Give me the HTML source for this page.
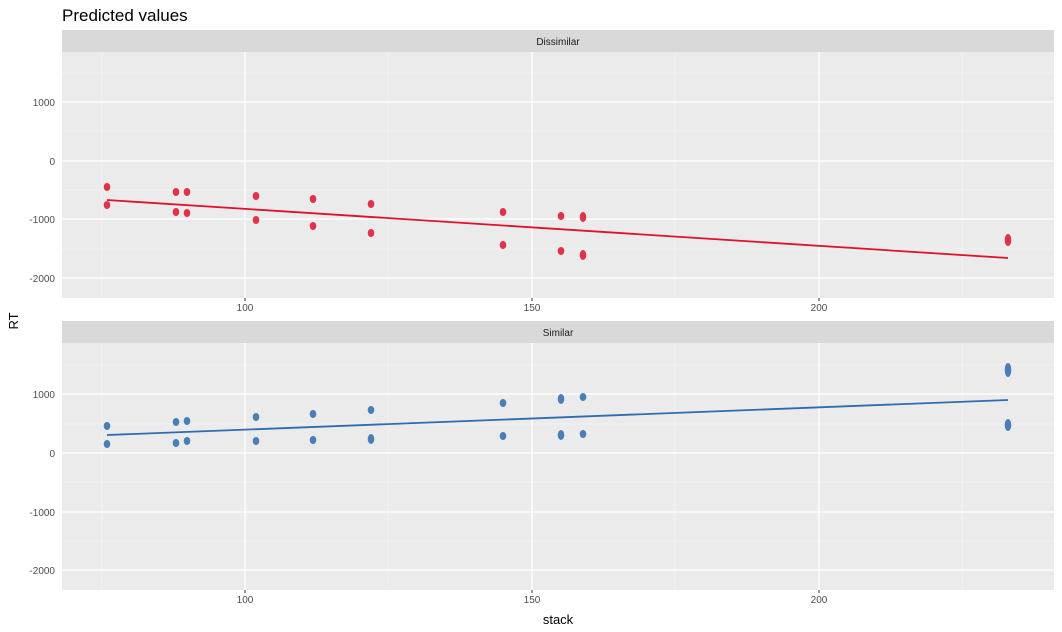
<!DOCTYPE html><html><head><style>body{margin:0;background:#fff}svg{display:block;font-family:"Liberation Sans",sans-serif}</style></head><body>
<svg width="1062" height="632" xmlns="http://www.w3.org/2000/svg">
<text x="62" y="21" font-size="17">Predicted values</text>
<g id="p1">
<rect x="62" y="30" width="992" height="22" fill="#d9d9d9"/>
<text x="558" y="45" font-size="10" text-anchor="middle" fill="#1a1a1a">Dissimilar</text>
<rect x="62" y="52" width="992" height="246" fill="#ebebeb"/>
<g stroke="#f5f5f5" stroke-width="0.7">
<line x1="62" x2="1054" y1="73" y2="73"/><line x1="62" x2="1054" y1="131" y2="131"/><line x1="62" x2="1054" y1="190" y2="190"/><line x1="62" x2="1054" y1="249" y2="249"/>
<line x1="102" x2="102" y1="52" y2="298"/><line x1="388" x2="388" y1="52" y2="298"/><line x1="675" x2="675" y1="52" y2="298"/><line x1="962" x2="962" y1="52" y2="298"/></g>
<g stroke="#fff" stroke-width="1.3">
<line x1="62" x2="1054" y1="102" y2="102"/><line x1="62" x2="1054" y1="161" y2="161"/><line x1="62" x2="1054" y1="219" y2="219"/><line x1="62" x2="1054" y1="278" y2="278"/>
<line x1="245" x2="245" y1="52" y2="298"/><line x1="532" x2="532" y1="52" y2="298"/><line x1="819" x2="819" y1="52" y2="298"/></g>
<g fill="#e0112b" fill-opacity="0.85">
<ellipse cx="107" cy="187" rx="3.3" ry="4"/><ellipse cx="107" cy="205" rx="3.3" ry="4"/>
<ellipse cx="176" cy="192" rx="3.3" ry="4"/><ellipse cx="176" cy="212" rx="3.3" ry="4"/>
<ellipse cx="187" cy="192" rx="3.3" ry="4"/><ellipse cx="187" cy="213" rx="3.3" ry="4"/>
<ellipse cx="256" cy="196" rx="3.3" ry="4"/><ellipse cx="256" cy="220" rx="3.3" ry="4"/>
<ellipse cx="313" cy="199" rx="3.3" ry="4"/><ellipse cx="313" cy="226" rx="3.3" ry="4"/>
<ellipse cx="371" cy="204" rx="3.3" ry="4"/><ellipse cx="371" cy="233" rx="3.3" ry="4"/>
<ellipse cx="503" cy="212" rx="3.3" ry="4"/><ellipse cx="503" cy="245" rx="3.3" ry="4"/>
<ellipse cx="561" cy="216" rx="3.3" ry="4"/><ellipse cx="561" cy="251" rx="3.3" ry="4"/>
<ellipse cx="583" cy="217" rx="3.3" ry="5"/><ellipse cx="583" cy="255" rx="3.3" ry="5"/>
<ellipse cx="1008" cy="240" rx="3.3" ry="6"/></g>
<line x1="107" y1="200" x2="1008" y2="258" stroke="#e0112b" stroke-width="1.8"/>
<g font-size="10" fill="#4d4d4d" text-anchor="end"><text x="55" y="106">1000</text><text x="55" y="165">0</text><text x="55" y="223">-1000</text><text x="55" y="282">-2000</text></g>
<g font-size="10" fill="#4d4d4d" text-anchor="middle"><text x="245" y="311">100</text><text x="532" y="311">150</text><text x="819" y="311">200</text></g>
</g>
<g id="p2">
<rect x="62" y="321" width="992" height="22" fill="#d9d9d9"/>
<text x="558" y="336" font-size="10" text-anchor="middle" fill="#1a1a1a">Similar</text>
<rect x="62" y="343" width="992" height="247" fill="#ebebeb"/>
<g stroke="#f5f5f5" stroke-width="0.7">
<line x1="62" x2="1054" y1="365" y2="365"/><line x1="62" x2="1054" y1="424" y2="424"/><line x1="62" x2="1054" y1="482" y2="482"/><line x1="62" x2="1054" y1="541" y2="541"/>
<line x1="102" x2="102" y1="343" y2="590"/><line x1="388" x2="388" y1="343" y2="590"/><line x1="675" x2="675" y1="343" y2="590"/><line x1="962" x2="962" y1="343" y2="590"/></g>
<g stroke="#fff" stroke-width="1.3">
<line x1="62" x2="1054" y1="394" y2="394"/><line x1="62" x2="1054" y1="453" y2="453"/><line x1="62" x2="1054" y1="512" y2="512"/><line x1="62" x2="1054" y1="570" y2="570"/>
<line x1="245" x2="245" y1="343" y2="590"/><line x1="532" x2="532" y1="343" y2="590"/><line x1="819" x2="819" y1="343" y2="590"/></g>
<g fill="#2e6bb0" fill-opacity="0.85">
<ellipse cx="107" cy="426" rx="3.3" ry="4"/><ellipse cx="107" cy="444" rx="3.3" ry="4"/>
<ellipse cx="176" cy="422" rx="3.3" ry="4"/><ellipse cx="176" cy="443" rx="3.3" ry="4"/>
<ellipse cx="187" cy="421" rx="3.3" ry="4"/><ellipse cx="187" cy="441" rx="3.3" ry="4"/>
<ellipse cx="256" cy="417" rx="3.3" ry="4"/><ellipse cx="256" cy="441" rx="3.3" ry="4"/>
<ellipse cx="313" cy="414" rx="3.3" ry="4"/><ellipse cx="313" cy="440" rx="3.3" ry="4"/>
<ellipse cx="371" cy="410" rx="3.3" ry="4"/><ellipse cx="371" cy="439" rx="3.3" ry="5"/>
<ellipse cx="503" cy="403" rx="3.3" ry="4"/><ellipse cx="503" cy="436" rx="3.3" ry="4"/>
<ellipse cx="561" cy="399" rx="3.3" ry="5"/><ellipse cx="561" cy="435" rx="3.3" ry="5"/>
<ellipse cx="583" cy="397" rx="3.3" ry="4"/><ellipse cx="583" cy="434" rx="3.3" ry="4"/>
<ellipse cx="1008" cy="370" rx="3.3" ry="7"/><ellipse cx="1008" cy="425" rx="3.3" ry="6"/></g>
<line x1="107" y1="435" x2="1008" y2="400" stroke="#2e6bb0" stroke-width="1.8"/>
<g font-size="10" fill="#4d4d4d" text-anchor="end"><text x="55" y="398">1000</text><text x="55" y="457">0</text><text x="55" y="516">-1000</text><text x="55" y="574">-2000</text></g>
<g font-size="10" fill="#4d4d4d" text-anchor="middle"><text x="245" y="603">100</text><text x="532" y="603">150</text><text x="819" y="603">200</text></g>
</g>
<g stroke="#333" stroke-width="1"><line x1="245" x2="245" y1="298" y2="301"/><line x1="532" x2="532" y1="298" y2="301"/><line x1="819" x2="819" y1="298" y2="301"/><line x1="245" x2="245" y1="590" y2="593"/><line x1="532" x2="532" y1="590" y2="593"/><line x1="819" x2="819" y1="590" y2="593"/></g>
<text x="558" y="624" font-size="13" text-anchor="middle">stack</text>
<text transform="translate(18,321) rotate(-90)" font-size="13" text-anchor="middle">RT</text>
</svg>
</body></html>
